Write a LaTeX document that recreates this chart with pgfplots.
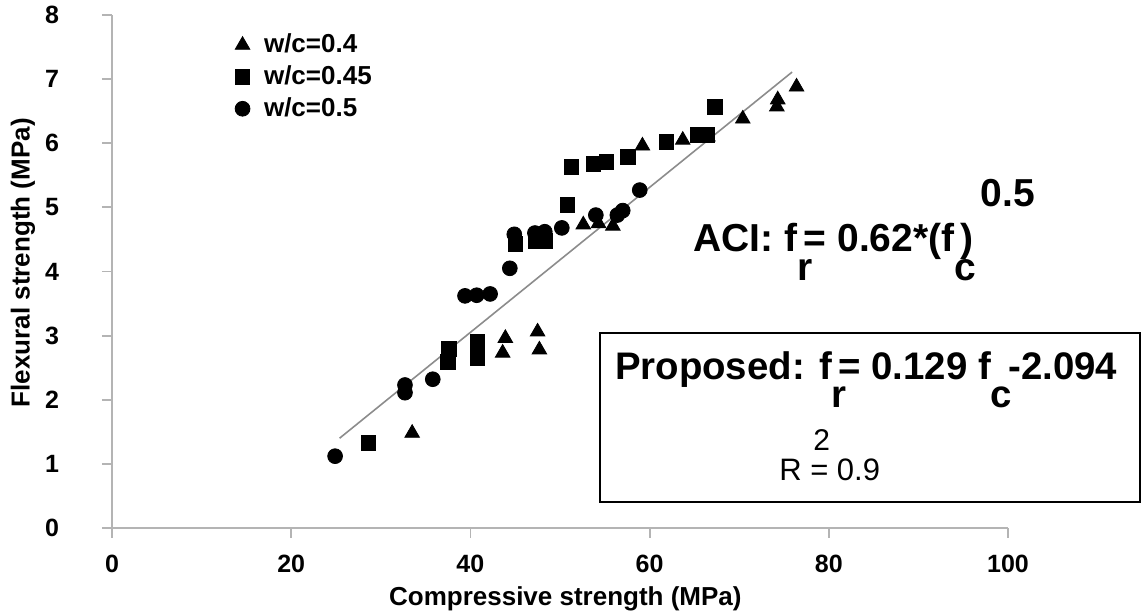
\documentclass[border=0pt]{standalone}
\usepackage{fontspec}
\setmainfont{Liberation Sans}
\usepackage{pgfplots}
\pgfplotsset{compat=1.18}
\definecolor{axisgray}{RGB}{180,180,180}
\definecolor{linegray}{RGB}{140,140,140}
\begin{document}
\begin{tikzpicture}
\path[use as bounding box] (-56pt,-44pt) rectangle (515pt,264pt);
\begin{axis}[
  at={(0,0)}, anchor=south west,
  scale only axis, width=448pt, height=256.5pt,
  xmin=0, xmax=100, ymin=0, ymax=8,
  xtick={0,20,...,100}, ytick={0,1,...,8},
  axis lines*=left,
  axis line style={draw=axisgray, line width=0.9pt, -},
  tick style={draw=axisgray, line width=0.9pt},
  tick align=outside, major tick length=5pt,
  /pgf/number format/assume math mode=true,
  ticklabel style={font=\bfseries\fontsize{12.5}{12.5}\selectfont},
  yticklabel style={xshift=-18pt},
  xticklabel style={yshift=-5pt},
  xlabel={Compressive strength (MPa)},
  ylabel={Flexural strength (MPa)},
  label style={font=\bfseries\fontsize{13}{13}\selectfont},
  xlabel style={at={(axis description cs:0.506,-0.138)}, anchor=center},
  ylabel style={at={(axis description cs:-0.0993,0.517)}, anchor=center},
  clip=false,
  legend cell align=left,
  legend image code/.code={\draw[#1] plot coordinates {(0cm,0cm)}; \path (0.3cm,0cm);},
  legend style={at={(axis cs:13.7,7.77)}, anchor=north west, draw=none, fill=none,
    font=\bfseries\fontsize{13}{13}\selectfont, row sep=1pt, inner sep=0pt},
]
% regression line
\addplot[linegray, line width=0.8pt, forget plot] coordinates {(25.4,1.40) (75.9,7.11)};
% w/c = 0.4
\addplot[only marks, mark=triangle*, mark size=4.2pt, black] coordinates {
(33.5,1.48) (43.6,2.73) (43.9,2.96) (47.5,3.06) (47.7,2.78)
(52.6,4.73) (54.3,4.75) (55.9,4.71) (59.2,5.96) (63.7,6.05)
(66.5,6.10) (70.4,6.38) (74.2,6.57) (74.3,6.68) (76.4,6.88)};
\addlegendentry{w/c=0.4}
% w/c = 0.45
\addplot[only marks, mark=square*, mark size=3.6pt, black] coordinates {
(28.6,1.33) (37.5,2.59) (37.6,2.79) (40.8,2.65) (40.8,2.90)
(45.0,4.43) (47.3,4.47) (48.3,4.48) (50.8,5.04) (51.3,5.63)
(53.7,5.68) (55.2,5.71) (57.6,5.79) (61.9,6.02) (65.4,6.13)
(66.4,6.13) (67.3,6.57)};
\addlegendentry{w/c=0.45}
% w/c = 0.5
\addplot[only marks, mark=*, mark size=3.7pt, black] coordinates {
(24.9,1.12) (32.7,2.11) (32.7,2.23) (35.8,2.32) (39.4,3.62)
(40.7,3.63) (42.2,3.65) (44.4,4.05) (44.9,4.58) (47.2,4.60)
(48.3,4.62) (50.2,4.68) (54.0,4.88) (56.4,4.88) (57.0,4.95)
(58.9,5.27)};
\addlegendentry{w/c=0.5}
% annotations
\draw[axisgray, line width=0.9pt] (axis cs:-0.8,0) -- (axis cs:0,0);
\node[anchor=base west, inner sep=0pt, font=\bfseries\fontsize{19.5}{19.5}\selectfont]
  at (axis cs:64.84,4.31) {ACI: f\rlap{\raisebox{-0.75em}{r}}\,= 0.62*(f\rlap{\raisebox{-0.75em}{c}}\hspace{0.15em})};
\node[anchor=center, inner sep=0pt, font=\bfseries\fontsize{19.5}{19.5}\selectfont]
  at (axis cs:100.0,5.23) {0.5};
\draw[black, line width=0.9pt] (axis cs:54.46,3.04) rectangle (axis cs:114.7,0.41);
\node[anchor=base west, inner sep=0pt, font=\bfseries\fontsize{19.2}{19.2}\selectfont]
  at (axis cs:56.1,2.31) {Proposed: f\rlap{\raisebox{-0.72em}{r}}\,= 0.129 f\rlap{\raisebox{-0.72em}{c}}\hspace{0.45em}-2.094};
\node[anchor=center, inner sep=0pt, font=\fontsize{15}{15}\selectfont]
  at (axis cs:79.2,1.37) {2};
\node[anchor=center, inner sep=0pt, font=\fontsize{15.5}{15.5}\selectfont]
  at (axis cs:80.1,0.90) {R = 0.9};
\end{axis}
\end{tikzpicture}
\end{document}
